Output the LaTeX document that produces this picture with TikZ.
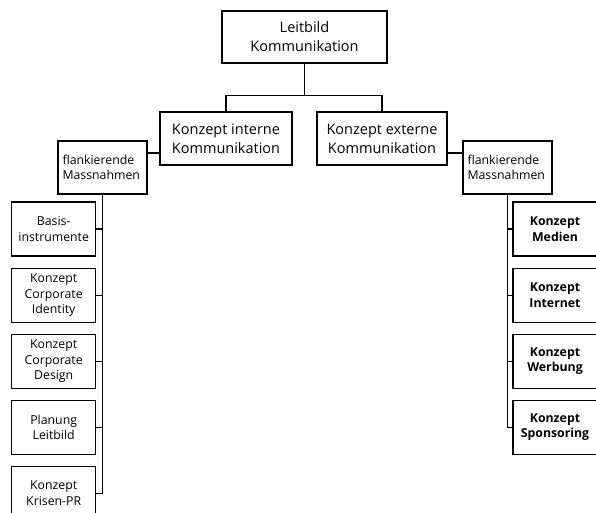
\documentclass[tikz,border=0pt]{standalone}
\usepackage{fontspec}
\setmainfont{Open Sans}
\usetikzlibrary{positioning, calc}

\tikzset{
  box/.style={draw, rectangle, align=center, inner sep=2pt, line width=1.1pt},
  grossbox/.style={box, font=\fontsize{14.5}{19}\selectfont, minimum height=53pt},
  kleinbox/.style={box, font=\fontsize{12.3}{15.5}\selectfont, minimum width=84pt, minimum height=54pt},
  fettbox/.style={kleinbox, font=\fontsize{12.3}{15.5}\selectfont\bfseries},
  flankbox/.style={box, font=\fontsize{12.3}{15.5}\selectfont, align=left, text width=80pt, inner xsep=4.5pt, minimum height=53pt},
  linie/.style={line width=1.1pt}
}

\begin{document}
\begin{tikzpicture}[x=1pt, y=-1pt]
  \useasboundingbox (0,0) rectangle (596,512);
  \node[grossbox, minimum width=165pt, minimum height=52pt]
    (K) at (304.5,37) {Leitbild\\Kommunikation};
  \node[grossbox, minimum width=132pt]
    (KI) at (226,138.5) {Konzept interne\\Kommunikation};
  \node[grossbox, minimum width=130pt]
    (KE) at (382,138.5) {Konzept externe\\Kommunikation};
  \node[flankbox] (FL) at (102.5,167.5) {flankierende\\Massnahmen};
  \node[flankbox] (FR) at (507.5,167.5) {flankierende\\Massnahmen};
  % linke Seite
  \node[kleinbox] (L1) at (53.7,229) {Basis-\\instrumente};
  \node[kleinbox, below=11pt of L1] (L2) {Konzept\\Corporate\\Identity};
  \node[kleinbox, below=11pt of L2] (L3) {Konzept\\Corporate\\Design};
  \node[kleinbox, below=11pt of L3] (L4) {Planung\\Leitbild};
  \node[kleinbox, below=11pt of L4] (L5) {Konzept\\Krisen-PR};
  % rechte Seite
  \node[fettbox] (R1) at (555,229) {Konzept\\Medien};
  \node[fettbox, below=11pt of R1] (R2) {Konzept\\Internet};
  \node[fettbox, below=11pt of R2] (R3) {Konzept\\Werbung};
  \node[fettbox, below=11pt of R3] (R4) {Konzept\\Sponsoring};
  % Verbindungen
  \draw[linie] (K.south) -- ++(0,32) -| (KI.north);
  \draw[linie] (K.south) -- ++(0,32) -| (KE.north);
  \draw[linie] let \p1=($(FL.east)!.5!(KI.west)$) in (FL.east |- \p1) -- (KI.west |- \p1);
  \draw[linie] let \p1=($(KE.east)!.5!(FR.west)$) in (KE.east |- \p1) -- (FR.west |- \p1);
  \foreach \n in {L1,L2,L3,L4,L5}
    \draw[linie] (FL.south) |- (\n.east);
  \foreach \n in {R1,R2,R3,R4}
    \draw[linie] (FR.south) |- (\n.west);
\end{tikzpicture}
\end{document}
